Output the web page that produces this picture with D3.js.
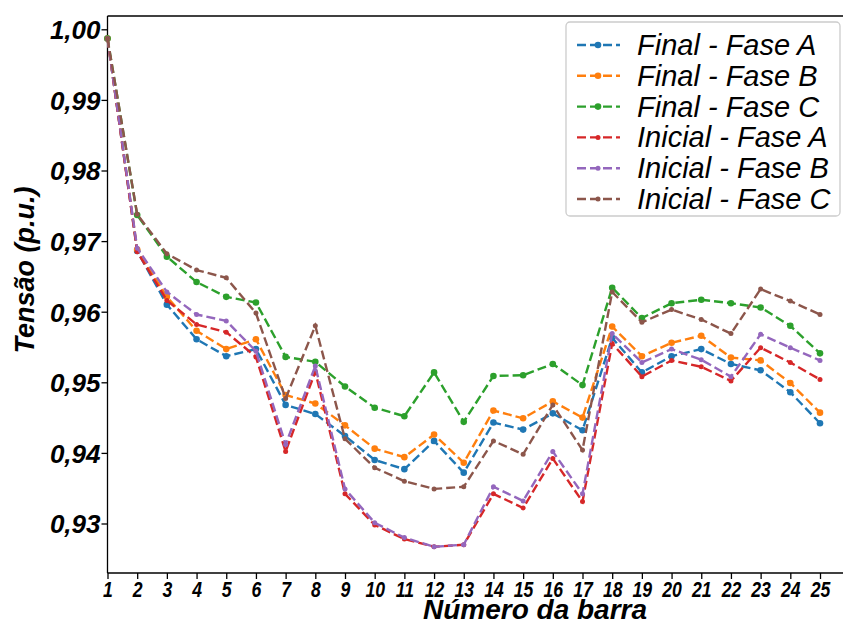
<!DOCTYPE html>
<html lang="pt">
<head>
<meta charset="UTF-8">
<title>Tensão por barra</title>
<script src="https://cdn.jsdelivr.net/npm/d3@7/dist/d3.min.js"></script>
<style>
  body { margin: 0; background: #fff; }
  svg { display: block; }
</style>
</head>
<body>
<script>
    var width = 843;
    var height = 626;

    // barras 1..25
    var barras = d3.range(1, 26);
    var yTicks = [0.93, 0.94, 0.95, 0.96, 0.97, 0.98, 0.99, 1.00];

    var finalA = [0.9987, 0.9686, 0.9610, 0.9561, 0.9537, 0.9547, 0.9468, 0.9455, 0.9424, 0.9390, 0.9377, 0.9417, 0.9372, 0.9443, 0.9433, 0.9456, 0.9432, 0.9563, 0.9514, 0.9537, 0.9547, 0.9526, 0.9517, 0.9486, 0.9442];
    var finalB = [0.9987, 0.9688, 0.9621, 0.9573, 0.9547, 0.9561, 0.9482, 0.9470, 0.9439, 0.9406, 0.9394, 0.9426, 0.9386, 0.9460, 0.9449, 0.9473, 0.9450, 0.9579, 0.9537, 0.9556, 0.9566, 0.9535, 0.9531, 0.9499, 0.9457];
    var finalC = [0.9987, 0.9737, 0.9678, 0.9642, 0.9621, 0.9613, 0.9536, 0.9529, 0.9494, 0.9464, 0.9452, 0.9514, 0.9444, 0.9509, 0.9510, 0.9526, 0.9496, 0.9634, 0.9591, 0.9612, 0.9617, 0.9612, 0.9606, 0.9580, 0.9541];
    var inicialA = [0.9987, 0.9685, 0.9616, 0.9582, 0.9571, 0.9536, 0.9402, 0.9515, 0.9342, 0.9298, 0.9278, 0.9267, 0.9270, 0.9342, 0.9322, 0.9392, 0.9331, 0.9555, 0.9508, 0.9531, 0.9522, 0.9502, 0.9549, 0.9528, 0.9504];
    var inicialB = [0.9987, 0.9690, 0.9628, 0.9596, 0.9587, 0.9544, 0.9412, 0.9523, 0.9349, 0.9301, 0.9280, 0.9267, 0.9270, 0.9352, 0.9332, 0.9402, 0.9342, 0.9569, 0.9528, 0.9547, 0.9532, 0.9508, 0.9568, 0.9549, 0.9531];
    var inicialC = [0.9987, 0.9738, 0.9682, 0.9659, 0.9648, 0.9598, 0.9477, 0.9580, 0.9420, 0.9379, 0.9360, 0.9349, 0.9352, 0.9417, 0.9398, 0.9468, 0.9404, 0.9628, 0.9585, 0.9603, 0.9589, 0.9569, 0.9632, 0.9615, 0.9596];

    var nomes = ["Final - Fase A", "Final - Fase B", "Final - Fase C",
                 "Inicial - Fase A", "Inicial - Fase B", "Inicial - Fase C"];
    var cores = ["#1f77b4", "#ff7f0e", "#2ca02c", "#d62728", "#9467bd", "#8c564b"];
    var series = [finalA, finalB, finalC, inicialA, inicialB, inicialC];

    var plotLeft = 107.5, plotTop = 16, plotBottom = 573;
    var fonte = "'Liberation Sans', Arial, sans-serif";

    var svg = d3.select("body")
        .append("svg")
        .attr("width", width)
        .attr("height", height);

    var x = d3.scaleLinear()
        .domain([1, 25])
        .range([plotLeft, 820]);
    var y = d3.scaleLinear()
        .domain([0.93, 1.00])
        .range([523.5, 29.3]);

    // moldura (a direita fica fora do quadro)
    svg.append("line")
        .attr("x1", plotLeft).attr("x2", width)
        .attr("y1", plotTop).attr("y2", plotTop)
        .attr("stroke", "#000").attr("stroke-width", 1.3);

    var xAxis = d3.axisBottom(x)
        .tickValues(barras)
        .tickFormat(d3.format("d"))
        .tickSize(6)
        .tickSizeOuter(0);
    var yAxis = d3.axisLeft(y)
        .tickValues(yTicks)
        .tickFormat(function (d) { return d3.format(".2f")(d).replace(".", ","); })
        .tickSize(6)
        .tickSizeOuter(0);

    var gx = svg.append("g")
        .attr("transform", "translate(0," + plotBottom + ")")
        .call(xAxis);
    gx.select(".domain").attr("d", "M" + plotLeft + ",0H" + width);
    gx.selectAll("line, path").attr("stroke", "#000").attr("stroke-width", 1.3);
    gx.selectAll("text")
        .attr("y", 24)
        .attr("dy", null)
        .attr("transform", "scale(0.8,1)")
        .style("font-family", fonte)
        .style("font-size", "22px")
        .style("font-weight", "bold")
        .style("font-style", "italic")
        .attr("fill", "#000");

    var gy = svg.append("g")
        .attr("transform", "translate(" + plotLeft + ",0)")
        .call(yAxis);
    gy.select(".domain").attr("d", "M0," + plotTop + "V" + plotBottom);
    gy.selectAll("line, path").attr("stroke", "#000").attr("stroke-width", 1.3);
    gy.selectAll("text")
        .attr("x", -7)
        .attr("dy", "0.36em")
        .style("font-family", fonte)
        .style("font-size", "26px")
        .style("font-weight", "bold")
        .style("font-style", "italic")
        .attr("fill", "#000");

    // títulos dos eixos
    svg.append("text")
        .attr("x", 535)
        .attr("y", 619)
        .attr("text-anchor", "middle")
        .style("font-family", fonte)
        .style("font-size", "28px")
        .style("font-weight", "bold")
        .style("font-style", "italic")
        .text("Número da barra");

    svg.append("text")
        .attr("transform", "translate(34,270) rotate(-90)")
        .attr("text-anchor", "middle")
        .style("font-family", fonte)
        .style("font-size", "27px")
        .style("font-weight", "bold")
        .style("font-style", "italic")
        .text("Tensão (p.u.)");

    var linha = d3.line()
        .x(function (d, i) { return x(barras[i]); })
        .y(function (d) { return y(d); });

    var plot = svg.append("g");
    series.forEach(function (s, k) {
        var raio = k < 3 ? 3.3 : 2.5;
        plot.append("path")
            .datum(s)
            .attr("d", linha)
            .attr("fill", "none")
            .attr("stroke", cores[k])
            .attr("stroke-width", 2.4)
            .attr("stroke-dasharray", "9,4");
        plot.selectAll(".p" + k)
            .data(s)
            .enter()
            .append("circle")
            .attr("class", "p" + k)
            .attr("cx", function (d, i) { return x(barras[i]); })
            .attr("cy", function (d) { return y(d); })
            .attr("r", raio)
            .attr("fill", cores[k]);
    });

    // legenda
    var leg = svg.append("g");
    leg.append("rect")
        .attr("x", 566).attr("y", 22)
        .attr("width", 274).attr("height", 194)
        .attr("rx", 4)
        .attr("fill", "#fff").attr("fill-opacity", 0.8)
        .attr("stroke", "#ccc").attr("stroke-width", 1.3);
    nomes.forEach(function (n, k) {
        var cy = 45 + k * 30.8;
        leg.append("line")
            .attr("x1", 577).attr("x2", 620)
            .attr("y1", cy).attr("y2", cy)
            .attr("stroke", cores[k])
            .attr("stroke-width", 2.4)
            .attr("stroke-dasharray", "9,4");
        leg.append("circle")
            .attr("cx", 598).attr("cy", cy)
            .attr("r", k < 3 ? 3.3 : 2.5)
            .attr("fill", cores[k]);
        leg.append("text")
            .attr("x", 637).attr("y", cy + 10)
            .style("font-family", fonte)
            .style("font-size", "29px")
            .style("font-style", "italic")
            .text(n);
    });
</script>
</body>
</html>
